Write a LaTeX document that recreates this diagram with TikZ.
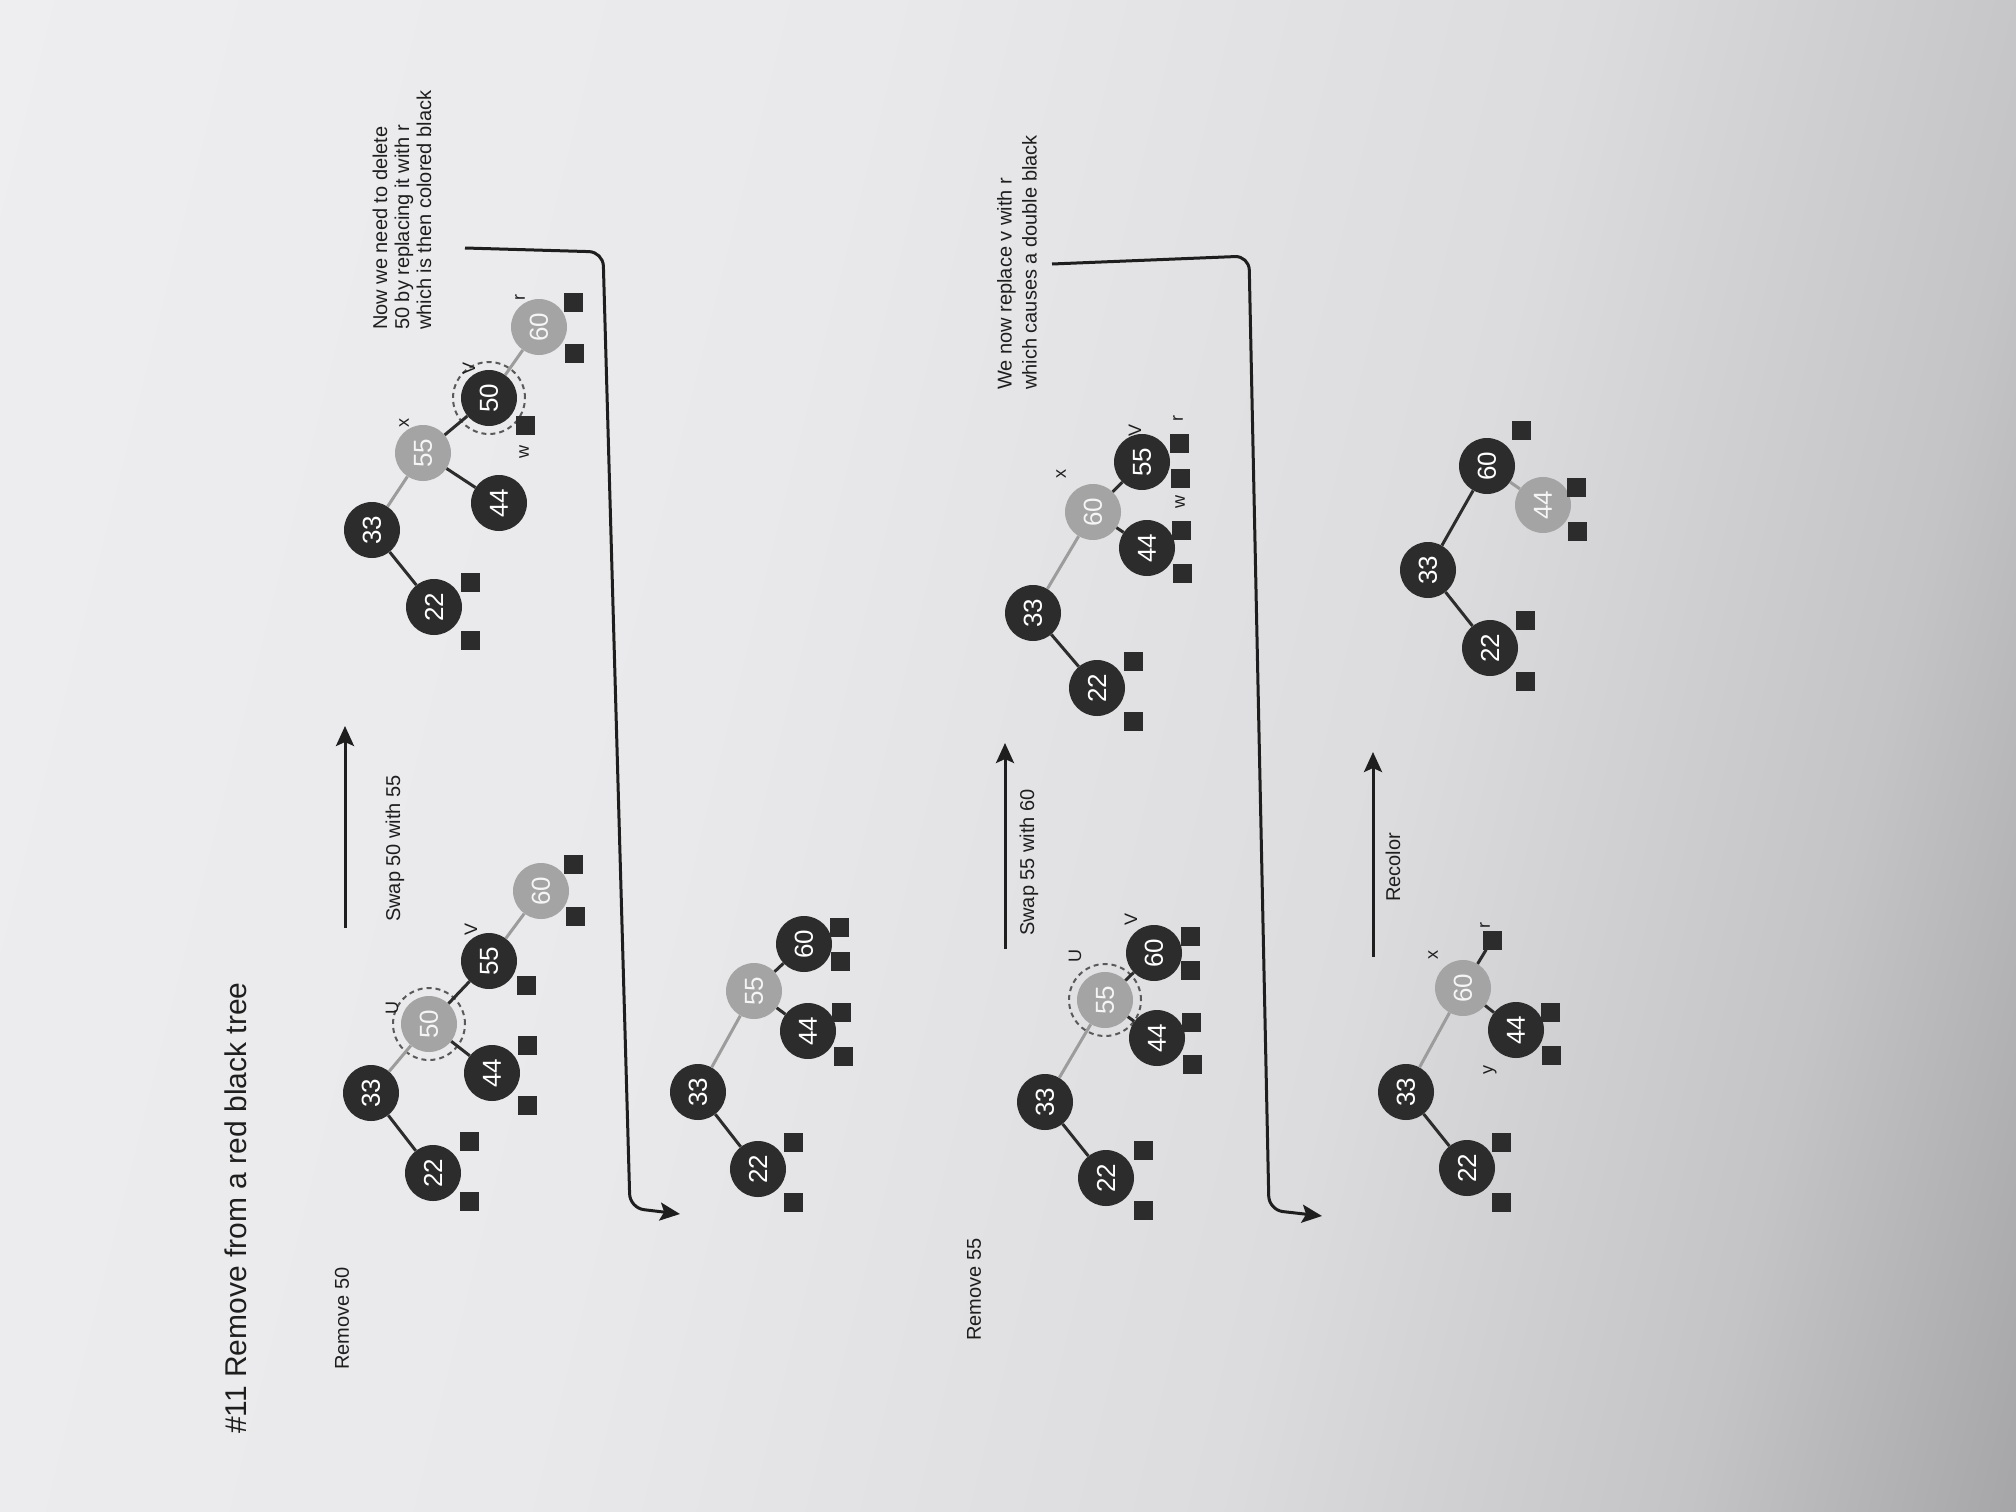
\documentclass[tikz,border=0pt]{standalone}
\usepackage{fontspec}
\setmainfont{Liberation Sans}
\usetikzlibrary{arrows.meta}
\definecolor{bgA}{HTML}{F2F2F4}
\definecolor{bgA2}{HTML}{E9E9EB}
\definecolor{bgM}{HTML}{DCDCDE}
\definecolor{bgM2}{HTML}{C4C4C6}
\definecolor{bgB}{HTML}{A0A0A2}
\definecolor{nblack}{HTML}{2C2C2C}
\definecolor{ngray}{HTML}{A4A4A4}
\definecolor{egray}{HTML}{9C9C9C}
\definecolor{ink}{HTML}{1E1E1E}
\pgfdeclarehorizontalshading{paper}{100bp}{color(0bp)=(bgA); color(42bp)=(bgA2); color(60bp)=(bgM); color(72bp)=(bgM2); color(82bp)=(bgB); color(100bp)=(bgB)}
\tikzset{
  bnode/.style={circle, fill=nblack, minimum size=56pt, inner sep=0pt, text=white,
    font=\fontsize{26}{26}\selectfont, rotate=90},
  gnode/.style={bnode, fill=ngray, text=white!92!gray},
  ring/.style={circle, draw=black!65, dashed, dash pattern=on 5pt off 4pt, line width=2pt,
    minimum size=72pt, inner sep=0pt},
  leaf/.style={rectangle, fill=nblack, minimum size=19pt, inner sep=0pt},
  bedge/.style={draw=nblack, line width=3pt},
  gedge/.style={draw=egray, line width=3pt},
  lbl/.style={text=ink, font=\fontsize{18}{18}\selectfont, rotate=90, inner sep=0pt},
  txt/.style={text=ink, font=\fontsize{20}{22}\selectfont, rotate=90, anchor=west, inner sep=0pt, align=left},
  ttl/.style={text=ink, font=\fontsize{30}{30}\selectfont, rotate=90, anchor=west, inner sep=0pt},
  stepArrow/.style={draw=ink, line width=3pt, -{Stealth[length=20pt,width=18pt,inset=4pt]}},
  bracketArrow/.style={draw=ink, line width=3pt, rounded corners=14pt, -{Stealth[length=20pt,width=18pt,inset=4pt]}}
}
\begin{document}
\begin{tikzpicture}[x=1pt,y=-1pt]
\shade[shading=paper, shading angle=-14] (0,0) rectangle (2016,1512);
\useasboundingbox (0,0) rectangle (2016,1512);

% ---------- texts ----------
\node[ttl] (title) at (236,1434) {\#11 Remove from a red black tree};
\node[txt] (rem50) at (342,1370) {Remove 50};
\node[txt] (swap1) at (395,922) {Swap 50 with 55};
\node[txt] (note1) at (402,330) {Now we need to delete\\50 by replacing it with r\\which is then colored black};
\node[txt] (rem55) at (974,1341) {Remove 55};
\node[txt] (swap2) at (1029,936) {Swap 55 with 60};
\node[txt,font=\fontsize{20}{25}\selectfont] (note2) at (1017,390) {We now replace v with r\\which causes a double black};
\node[txt] (recol) at (1393,902) {Recolor};

% ---------- step arrows ----------
\coordinate (s1a) at (345,928); \coordinate (s1b) at (345,726);
\coordinate (s2a) at (1005,949); \coordinate (s2b) at (1005,743);
\coordinate (s3a) at (1373,957); \coordinate (s3b) at (1373,752);
\draw[stepArrow] (s1a) -- (s1b);
\draw[stepArrow] (s2a) -- (s2b);
\draw[stepArrow] (s3a) -- (s3b);

% ---------- bracket arrows ----------
\coordinate (k1a) at (465,248); \coordinate (k1b) at (603,252);
\coordinate (k1c) at (630,1208); \coordinate (k1d) at (680,1214);
\draw[bracketArrow] (k1a) -- (k1b) -- (k1c) -- (k1d);
\coordinate (k2a) at (1052,264); \coordinate (k2b) at (1249,256);
\coordinate (k2c) at (1269,1210); \coordinate (k2d) at (1322,1216);
\draw[bracketArrow] (k2a) -- (k2b) -- (k2c) -- (k2d);

% ---------- Tree 1 ----------
\node[bnode] (a33) at (371,1093) {33};
\node[bnode] (a22) at (433,1173) {22};
\node[gnode] (a50) at (429,1024) {50};
\node[ring] (a50r) at (429,1024) {};
\node[bnode] (a44) at (492,1073) {44};
\node[bnode] (a55) at (489,961) {55};
\node[gnode] (a60) at (541,891) {60};
\draw[bedge] (a33) -- (a22);
\draw[gedge] (a33) -- (a50);
\draw[bedge] (a50) -- (a44);
\draw[bedge] (a50) -- (a55);
\draw[gedge] (a55) -- (a60);
\node[leaf] (a22l1) at (469,1141) {};
\node[leaf] (a22l2) at (469,1201) {};
\node[leaf] (a44l1) at (527,1045) {};
\node[leaf] (a44l2) at (527,1105) {};
\node[leaf] (a55l1) at (526,985) {};
\node[leaf] (a60l1) at (573,864) {};
\node[leaf] (a60l2) at (575,916) {};
\node[lbl] (aU) at (392,1008) {U};
\node[lbl] (aV) at (471,929) {V};

% ---------- Tree 2 ----------
\node[bnode] (b33) at (372,530) {33};
\node[bnode] (b22) at (434,607) {22};
\node[gnode] (b55) at (423,453) {55};
\node[bnode] (b44) at (499,503) {44};
\node[bnode] (b50) at (489,398) {50};
\node[ring] (b50r) at (489,398) {};
\node[gnode] (b60) at (539,327) {60};
\draw[bedge] (b33) -- (b22);
\draw[gedge] (b33) -- (b55);
\draw[bedge] (b55) -- (b44);
\draw[bedge] (b55) -- (b50);
\draw[gedge] (b50) -- (b60);
\node[leaf] (b22l1) at (470,582) {};
\node[leaf] (b22l2) at (470,640) {};
\node[leaf] (b50l1) at (525,425) {};
\node[leaf] (b60l1) at (573,302) {};
\node[leaf] (b60l2) at (574,353) {};
\node[lbl] (bx) at (404,423) {x};
\node[lbl] (bV) at (469,368) {V};
\node[lbl] (bw) at (524,452) {w};
\node[lbl] (br) at (520,298) {r};

% ---------- Tree 3 ----------
\node[bnode] (c33) at (698,1092) {33};
\node[bnode] (c22) at (758,1169) {22};
\node[gnode] (c55) at (754,991) {55};
\node[bnode] (c44) at (808,1031) {44};
\node[bnode] (c60) at (804,944) {60};
\draw[bedge] (c33) -- (c22);
\draw[gedge] (c33) -- (c55);
\draw[bedge] (c55) -- (c44);
\draw[bedge] (c55) -- (c60);
\node[leaf] (c22l1) at (793,1142) {};
\node[leaf] (c22l2) at (793,1202) {};
\node[leaf] (c44l1) at (841,1012) {};
\node[leaf] (c44l2) at (843,1056) {};
\node[leaf] (c60l1) at (839,927) {};
\node[leaf] (c60l2) at (840,961) {};

% ---------- Tree 4 ----------
\node[bnode] (d33) at (1045,1102) {33};
\node[bnode] (d22) at (1106,1178) {22};
\node[gnode] (d55) at (1105,1000) {55};
\node[ring] (d55r) at (1105,1000) {};
\node[bnode] (d44) at (1157,1038) {44};
\node[bnode] (d60) at (1154,953) {60};
\draw[bedge] (d33) -- (d22);
\draw[gedge] (d33) -- (d55);
\draw[bedge] (d55) -- (d44);
\draw[bedge] (d55) -- (d60);
\node[leaf] (d22l1) at (1143,1150) {};
\node[leaf] (d22l2) at (1143,1210) {};
\node[leaf] (d44l1) at (1191,1022) {};
\node[leaf] (d44l2) at (1192,1064) {};
\node[leaf] (d60l1) at (1190,936) {};
\node[leaf] (d60l2) at (1190,970) {};
\node[lbl] (dU) at (1075,956) {U};
\node[lbl] (dV) at (1131,919) {V};

% ---------- Tree 5 ----------
\node[bnode] (e33) at (1033,613) {33};
\node[bnode] (e22) at (1097,688) {22};
\node[gnode] (e60) at (1093,512) {60};
\node[bnode] (e44) at (1147,548) {44};
\node[bnode] (e55) at (1142,462) {55};
\draw[bedge] (e33) -- (e22);
\draw[gedge] (e33) -- (e60);
\draw[bedge] (e60) -- (e44);
\draw[bedge] (e60) -- (e55);
\node[leaf] (e22l1) at (1133,661) {};
\node[leaf] (e22l2) at (1133,721) {};
\node[leaf] (e44l1) at (1181,530) {};
\node[leaf] (e44l2) at (1182,573) {};
\node[leaf] (e55l1) at (1179,443) {};
\node[leaf] (e55l2) at (1180,478) {};
\node[lbl] (ex) at (1061,474) {x};
\node[lbl] (eV) at (1135,430) {V};
\node[lbl] (er) at (1178,418) {r};
\node[lbl] (ew) at (1180,502) {w};

% ---------- Tree 6 ----------
\node[bnode] (f33) at (1406,1092) {33};
\node[bnode] (f22) at (1467,1168) {22};
\node[gnode] (f60) at (1463,988) {60};
\node[bnode] (f44) at (1516,1030) {44};
\node[leaf] (f60l1) at (1492,940) {};
\draw[bedge] (f33) -- (f22);
\draw[gedge] (f33) -- (f60);
\draw[bedge] (f60) -- (f44);
\draw[bedge] (f60) -- (f60l1);
\node[leaf] (f22l1) at (1501,1142) {};
\node[leaf] (f22l2) at (1501,1202) {};
\node[leaf] (f44l1) at (1550,1012) {};
\node[leaf] (f44l2) at (1551,1055) {};
\node[lbl] (fx) at (1433,955) {x};
\node[lbl] (fy) at (1490,1070) {y};
\node[lbl] (fr) at (1485,925) {r};

% ---------- Tree 7 ----------
\node[bnode] (g33) at (1428,570) {33};
\node[bnode] (g22) at (1490,648) {22};
\node[bnode] (g60) at (1487,466) {60};
\node[gnode] (g44) at (1543,505) {44};
\draw[bedge] (g33) -- (g22);
\draw[bedge] (g33) -- (g60);
\draw[gedge] (g60) -- (g44);
\node[leaf] (g22l1) at (1525,620) {};
\node[leaf] (g22l2) at (1525,681) {};
\node[leaf] (g60l1) at (1521,430) {};
\node[leaf] (g44l1) at (1576,487) {};
\node[leaf] (g44l2) at (1577,531) {};
\end{tikzpicture}
\end{document}
